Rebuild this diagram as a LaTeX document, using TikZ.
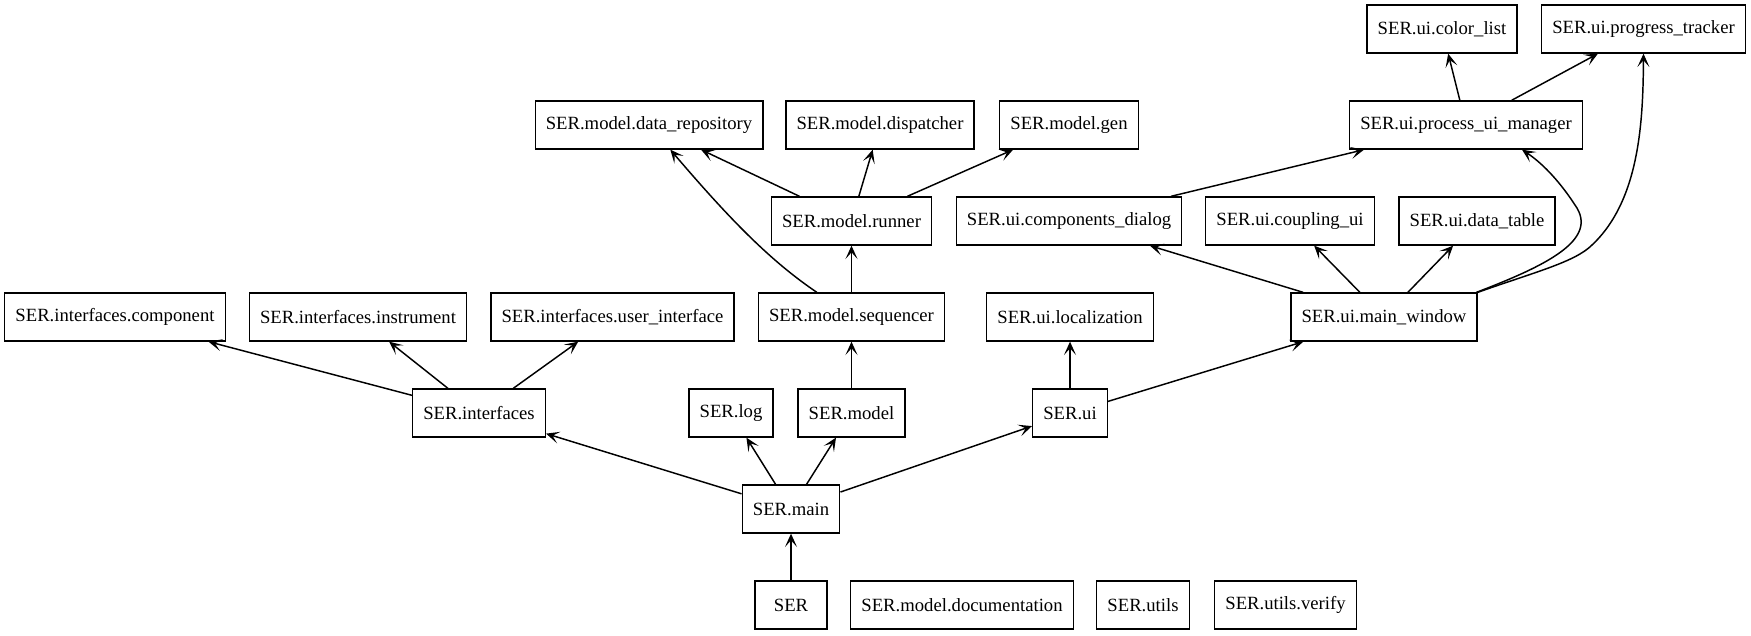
\documentclass[tikz,border=0pt]{standalone}
\usepackage{fontspec}
\setmainfont{Liberation Serif}
\usepackage{tikz}
\usetikzlibrary{arrows.meta}
\tikzset{
  mod-node/.style={draw=black, line width=1pt, minimum width=54pt, minimum height=36pt,
    inner xsep=8pt, font=\fontsize{14pt}{16pt}\selectfont, align=center},
  dep-arrow/.style={-{Stealth[length=10pt, width=9pt, inset=5pt]}, line width=1.1pt, draw=black}
}

\begin{document}
\begin{tikzpicture}[x=0.75pt, y=-0.75pt]
\useasboundingbox (0,0) rectangle (1751,635);
% top row
\node[mod-node] (colors) at (1442, 29) {SER.ui.color\_list};
\node[mod-node] (progress) at (1643.5, 29) {SER.ui.progress\_tracker};
% model packages and process manager
\node[mod-node] (repo) at (649, 125) {SER.model.data\_repository};
\node[mod-node] (disp) at (880, 125) {SER.model.dispatcher};
\node[mod-node] (gen) at (1069, 125) {SER.model.gen};
\node[mod-node] (pum) at (1466, 125) {SER.ui.process\_ui\_manager};
\node[mod-node] (runner) at (851.5, 221) {SER.model.runner};
\node[mod-node] (compdlg) at (1069, 221) {SER.ui.components\_dialog};
\node[mod-node] (coupl) at (1290, 221) {SER.ui.coupling\_ui};
\node[mod-node] (datatab) at (1477, 221) {SER.ui.data\_table};
% interfaces level
\node[mod-node] (ifccomp) at (115, 317) {SER.interfaces.component};
\node[mod-node] (ifcinstr) at (358, 317) {SER.interfaces.instrument};
\node[mod-node] (ifcui) at (612.5, 317) {SER.interfaces.user\_interface};
\node[mod-node] (seq) at (851.5, 317) {SER.model.sequencer};
\node[mod-node] (loc) at (1070, 317) {SER.ui.localization};
\node[mod-node] (mainwin) at (1384, 317) {SER.ui.main\_window};
\node[mod-node] (ifc) at (479, 413) {SER.interfaces};
\node[mod-node] (log) at (731, 413) {SER.log};
\node[mod-node] (model) at (851.5, 413) {SER.model};
\node[mod-node] (ui) at (1070, 413) {SER.ui};
\node[mod-node] (main) at (791, 509) {SER.main};
% bottom row
\node[mod-node] (root) at (791, 605) {SER};
\node[mod-node] (doc) at (962, 605) {SER.model.documentation};
\node[mod-node] (utils) at (1143, 605) {SER.utils};
\node[mod-node] (verify) at (1285.5, 605) {SER.utils.verify};

\draw[dep-arrow] (root) -- (main);
\draw[dep-arrow] (main) -- (ifc);
\draw[dep-arrow] (main) -- (log);
\draw[dep-arrow] (main) -- (model);
\draw[dep-arrow] (main) -- (ui);
\draw[dep-arrow] (ifc) -- (ifccomp);
\draw[dep-arrow] (ifc) -- (ifcinstr);
\draw[dep-arrow] (ifc) -- (ifcui);
\draw[dep-arrow] (model) -- (seq);
\draw[dep-arrow] (seq) -- (runner);
\draw[dep-arrow] ([xshift=-26pt]seq.north) .. controls (772,262) and (732,222) .. ([xshift=16pt]repo.south);
\draw[dep-arrow] (runner) -- (repo);
\draw[dep-arrow] (runner) -- (disp);
\draw[dep-arrow] (runner) -- (gen);
\draw[dep-arrow] (ui) -- (loc);
\draw[dep-arrow] (ui) -- (mainwin);
\draw[dep-arrow] (mainwin) -- (compdlg);
\draw[dep-arrow] (mainwin) -- (coupl);
\draw[dep-arrow] (mainwin) -- (datatab);
\draw[dep-arrow] (compdlg) -- (pum);
\draw[dep-arrow] (pum) -- (colors);
\draw[dep-arrow] (pum) -- (progress);
\draw[dep-arrow] ([xshift=-1pt]mainwin.north east) .. controls (1545,266) and (1600,240) .. (1575,205) .. controls (1562,185) and (1545,165) .. ([xshift=42pt]pum.south);
\draw[dep-arrow] (mainwin.north east) .. controls (1535,272) and (1575,262) .. (1592,245) .. controls (1640,200) and (1643,120) .. (progress.south);
\end{tikzpicture}
\end{document}
